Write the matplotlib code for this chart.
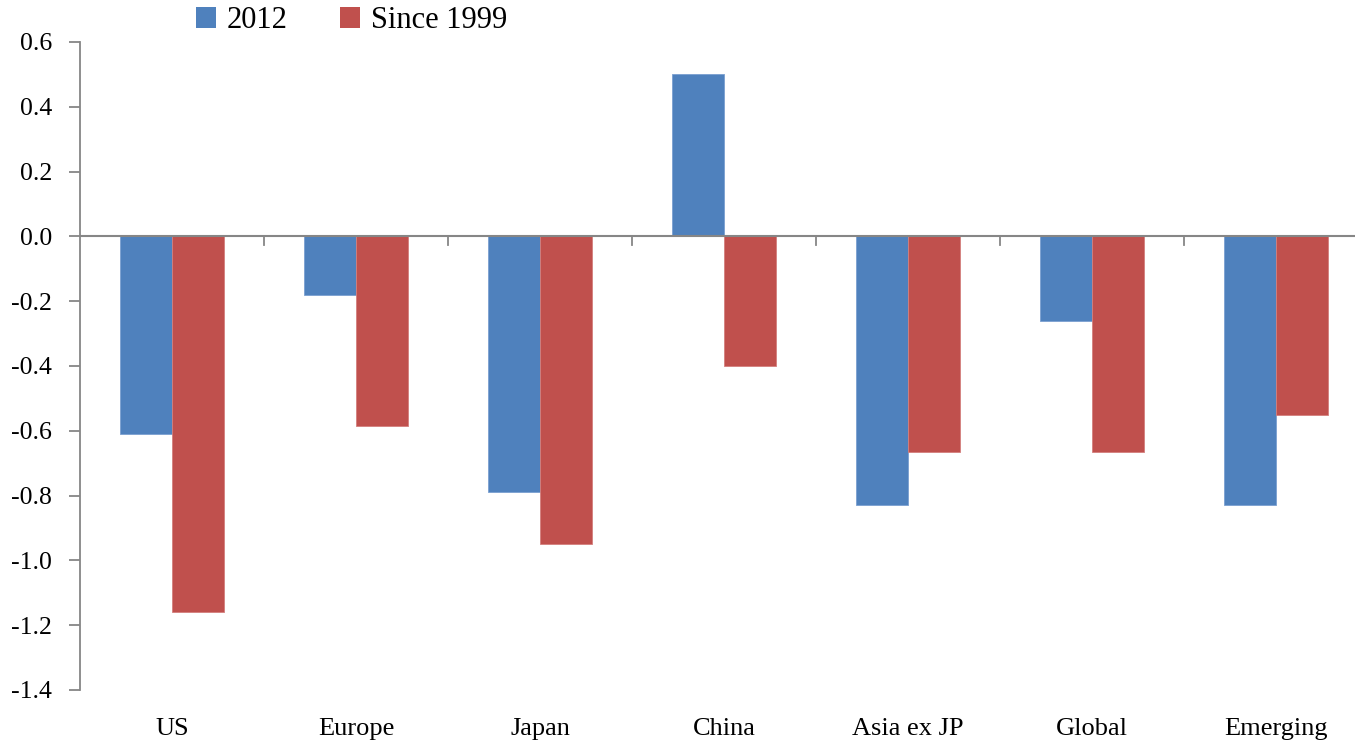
import matplotlib
matplotlib.use("Agg")
import matplotlib.pyplot as plt
import numpy as np
from matplotlib.patches import Patch

categories = ["US", "Europe", "Japan", "China", "Asia ex JP", "Global", "Emerging"]
vals_2012 = [-0.61, -0.18, -0.79, 0.50, -0.83, -0.26, -0.83]
vals_since_1999 = [-1.16, -0.585, -0.95, -0.40, -0.665, -0.665, -0.55]
series_names = ["2012", "Since 1999"]
yticks = [0.6, 0.4, 0.2, 0.0, -0.2, -0.4, -0.6, -0.8, -1.0, -1.2, -1.4]

blue = "#4F81BD"
red = "#C0504D"
axis_grey = "#868686"

plt.rcParams["font.family"] = ["Liberation Serif", "DejaVu Serif"]

W, H = 1355, 741
fig = plt.figure(figsize=(W / 100, H / 100), dpi=100)
ax = fig.add_axes([80 / W, 1 - 690 / H, 1288 / W, (690 - 42) / H])

x = np.arange(len(categories))
bw = 0.284
ax.bar(x - bw / 2, vals_2012, width=bw, color=blue, edgecolor="#7a9fd0", linewidth=0.6, zorder=2)
ax.bar(x + bw / 2, vals_since_1999, width=bw, color=red, edgecolor="#d47f7d", linewidth=0.6, zorder=2)

ax.set_xlim(-0.5, len(categories) - 0.5)
ax.set_ylim(-1.4, 0.6)
ax.set_yticks(yticks)
ax.set_yticklabels([f"{v:.1f}" for v in yticks], fontsize=18.5)

for s in ["top", "right", "bottom"]:
    ax.spines[s].set_visible(False)
ax.spines["left"].set_color(axis_grey)
ax.spines["left"].set_linewidth(1.3)
ax.tick_params(axis="y", direction="out", length=8, width=1.3, color=axis_grey, pad=12)

# zero line with category boundary ticks
ax.axhline(0, color=axis_grey, linewidth=1.5, zorder=3)
for b in np.arange(0.5, len(categories) - 0.5, 1.0):
    ax.plot([b, b], [0, -0.025], color=axis_grey, linewidth=1.3, zorder=3, clip_on=False)

ax.set_xticks(x)
ax.set_xticklabels(categories, fontsize=19)
ax.tick_params(axis="x", length=0, pad=20)

handles = [Patch(facecolor=blue, edgecolor="none"), Patch(facecolor=red, edgecolor="none")]
fig.legend(handles, series_names, loc="upper left", bbox_to_anchor=(184 / W, 1 + 6 / H),
           ncol=2, frameon=False, fontsize=22, handlelength=0.66, handleheight=0.66,
           handletextpad=0.35, columnspacing=1.7, borderaxespad=0)

fig.savefig("out.png", dpi=100)
